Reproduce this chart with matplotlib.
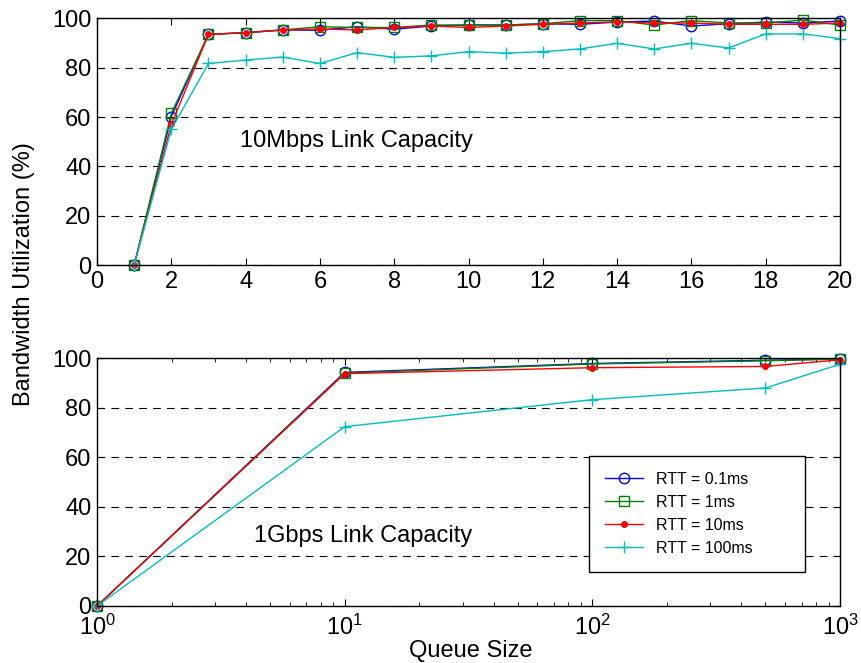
import numpy as np
import matplotlib.pyplot as plt

plt.rcParams['font.family'] = ['Liberation Sans', 'DejaVu Sans']

# 10Mbps link: queue sizes 1..20
queue_10m = np.arange(1, 21)
rtt01_10m = [0, 60.2, 93.5, 94.2, 95.3, 95.2, 96.6, 95.6, 96.9, 97.3,
             97.3, 97.8, 97.6, 98.5, 98.9, 96.9, 97.8, 98.5, 98.1, 98.9]
rtt1_10m = [0, 61.5, 93.5, 94.2, 95.3, 96.6, 96.3, 96.3, 97.3, 97.3,
            97.3, 97.8, 99.1, 99.1, 97.3, 99.1, 98.1, 98.1, 99.3, 97.3]
rtt10_10m = [0, 57.0, 93.5, 94.2, 95.3, 95.7, 95.3, 96.3, 96.9, 96.3,
             96.9, 97.6, 98.1, 98.6, 98.1, 98.1, 97.6, 97.6, 97.6, 98.1]
rtt100_10m = [0, 55.0, 81.7, 83.1, 84.3, 81.7, 86.1, 84.2, 84.8, 86.5,
              85.9, 86.5, 87.6, 89.9, 87.6, 89.9, 88.0, 93.7, 93.7, 91.8]

# 1Gbps link: queue sizes on a log scale
queue_1g = [1, 10, 100, 500, 1000]
rtt01_1g = [0, 94.3, 97.9, 99.2, 99.7]
rtt1_1g = [0, 94.0, 97.7, 99.0, 99.7]
rtt10_1g = [0, 93.8, 96.2, 96.7, 99.4]
rtt100_1g = [0, 72.4, 83.3, 88.0, 97.6]

labels = ['RTT = 0.1ms', 'RTT = 1ms', 'RTT = 10ms', 'RTT = 100ms']
styles = [dict(color='b', marker='o', mfc='none', ms=7.5),
          dict(color='g', marker='s', mfc='none', ms=7),
          dict(color='r', marker='o', mec='r', mfc='r', ms=4),
          dict(color='c', marker='+', ms=9)]

fig = plt.figure(figsize=(8.61, 6.63), dpi=100)
ax1 = fig.add_axes([0.1127, 0.6003, 0.8629, 0.372])
ax2 = fig.add_axes([0.1127, 0.0860, 0.8629, 0.3736])

for ys, st in zip([rtt01_10m, rtt1_10m, rtt10_10m, rtt100_10m], styles):
    ax1.plot(queue_10m, ys, lw=1, mew=1, clip_on=False, **st)
for ys, st, lab in zip([rtt01_1g, rtt1_1g, rtt10_1g, rtt100_1g], styles, labels):
    ax2.plot(queue_1g, ys, lw=1, mew=1, clip_on=False, label=lab, **st)

ax1.set_xlim(0, 20)
ax1.set_xticks(range(0, 21, 2))
ax2.set_xscale('log')
ax2.set_xlim(1, 1000)

for ax in (ax1, ax2):
    ax.set_ylim(0, 100)
    ax.set_yticks(range(0, 101, 20))
    ax.yaxis.grid(True, ls=(0, (7, 5.5)), color='k', lw=0.8)
    ax.tick_params(direction='in', top=True, right=True, labelsize=17, length=5, pad=4)
    ax.tick_params(which='minor', direction='in', top=True, right=True, length=3)
    for sp in ax.spines.values():
        sp.set_linewidth(1)
    ax.set_axisbelow(True)
ax2.tick_params(axis='x', pad=6)

ax1.text(3.85, 50.3, '10Mbps Link Capacity', fontsize=17, va='center')
ax2.text(4.3, 28.3, '1Gbps Link Capacity', fontsize=17, va='center')

fig.text(0.547, 0.009, 'Queue Size', fontsize=17, ha='center', va='baseline')
fig.text(0.0275, 0.587, 'Bandwidth Utilization (%)', rotation=90,
         fontsize=17, va='center', ha='center')

leg = ax2.legend(loc='upper left', bbox_to_anchor=(0.6621, 0.5057, 0.2907, 0.1),
                 mode='expand', fontsize=11.5, handlelength=2.4, handletextpad=0.8,
                 fancybox=False, framealpha=1, edgecolor='k', borderpad=1.0,
                 labelspacing=0.5, borderaxespad=0)
leg.get_frame().set_linewidth(1)

fig.savefig('out.png', dpi=100)
